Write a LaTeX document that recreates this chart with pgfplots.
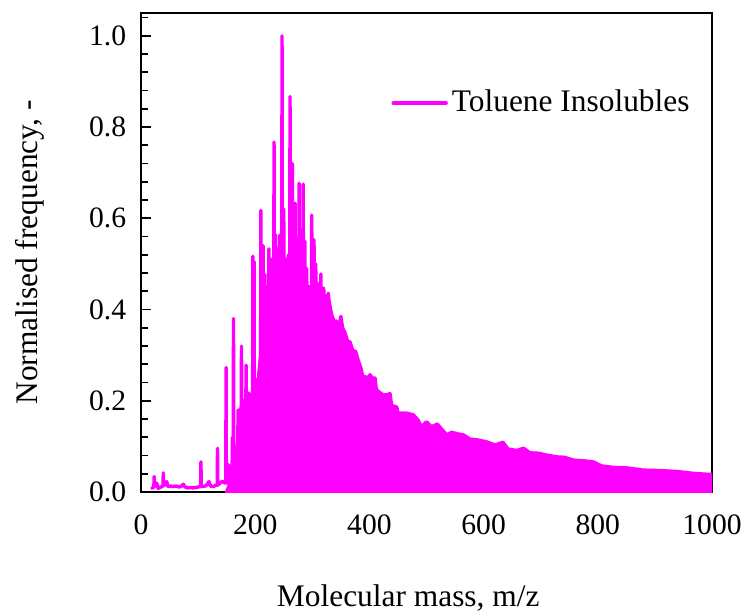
\documentclass[border=0pt]{standalone}
\usepackage{pgfplots}
\pgfplotsset{compat=1.18}
\usepackage{fontspec}
\setmainfont{Liberation Serif}
\definecolor{mag}{RGB}{255,0,255}
\begin{document}
\fontsize{15.7}{18}\selectfont
\begin{tikzpicture}
\useasboundingbox (-70.5pt,-59.5pt) rectangle (303pt,246pt);
\begin{axis}[
  at={(0,0)}, anchor=south west,
  scale only axis, width=285.5pt, height=239.5pt,
  xmin=0, xmax=1000, ymin=0, ymax=1.05,
  xtick={0,200,400,600,800,1000},
  ytick={0,0.2,0.4,0.6,0.8,1.0},
  minor ytick={0.04,0.08,0.12,0.16,0.24,0.28,0.32,0.36,0.44,0.48,0.52,0.56,0.64,0.68,0.72,0.76,0.84,0.88,0.92,0.96,1.04},
  tick pos=left, tick align=inside,
  major tick length=5pt, minor tick length=3.5pt,
  every tick/.style={black, line width=0.9pt},
  axis line style={line width=1.2pt},
  /pgf/number format/assume math mode=true,
  tick label style={font=\fontsize{14.8}{17}\selectfont},
  yticklabel style={/pgf/number format/.cd, fixed, fixed zerofill, precision=1, /tikz/.cd, xshift=-2pt},
  xticklabel style={/pgf/number format/.cd, 1000 sep={}, /tikz/.cd, yshift=-6pt},
  xlabel={Molecular mass, m/z},
  ylabel={Normalised frequency, -},
  xlabel style={at={(axis description cs:0.468,-0.221)}, anchor=center},
  ylabel style={at={(axis description cs:-0.194,0.5)}, anchor=center},
  legend style={draw=none, fill=none, at={(axis description cs:0.438,0.812)}, anchor=west, inner sep=0pt, font=\fontsize{15.7}{18}\selectfont},
  legend cell align=left,
  legend image code/.code={\draw[#1] (0pt,0pt) -- (26.5pt,0pt);},
]
% solid body of the spectrum
\addplot[draw=mag, fill=mag, line width=1.7pt, line join=round, forget plot] coordinates {
(150,0.0) (156,0.02) (160,0.05) (165,0.07) (170,0.12) (174,0.18) (180,0.2) (188,0.2) (195,0.21) (200,0.24) (205,0.24) (210,0.3) (215,0.38) (220,0.42) (230,0.42) (240,0.40) (250,0.46) (260,0.48) (270,0.47) (280,0.46) (290,0.45) (300,0.45) (310,0.44) (320,0.43) (328,0.43) (332,0.40) (335,0.384) (340,0.37) (342,0.375) (346,0.36) (350,0.385) (353,0.36) (357,0.35) (362,0.33) (366,0.329) (371,0.31) (376,0.308) (380,0.29) (385,0.272) (389,0.25) (392,0.253) (397,0.25) (401,0.257) (405,0.25) (410,0.25) (412,0.225) (416,0.22) (424,0.213) (432,0.213) (436,0.216) (439,0.19) (448,0.186) (450,0.173) (465,0.173) (477,0.169) (485,0.158) (491,0.143) (500,0.154) (509,0.143) (519,0.149) (527,0.137) (536,0.125) (544,0.131) (556,0.127) (565,0.125) (576,0.116) (590,0.114) (605,0.110) (620,0.103) (634,0.109) (643,0.094) (658,0.091) (670,0.096) (681,0.086) (696,0.085) (710,0.081) (728,0.077) (742,0.076) (757,0.070) (778,0.068) (792,0.066) (807,0.057) (827,0.054) (850,0.053) (880,0.048) (909,0.047) (938,0.045) (967,0.041) (990,0.039) (1000,0.039)
} \closedcycle;
% individual peaks
\addplot[mag, line width=1.7pt, line join=round, line cap=round] coordinates {
(19,0.008) (21,0.010) (22.5,0.010) (23,0.034) (23.5,0.012) (26,0.020) (28,0.018) (30,0.008) (33,0.010) (37,0.012) (38.5,0.012) (39,0.042) (39.5,0.015) (41,0.015) (45,0.023) (47,0.012) (52,0.013) (57,0.012) (62,0.013) (66,0.011) (70,0.012) (74,0.017) (77,0.011) (82,0.009) (86,0.010) (91,0.009) (96,0.010) (100,0.011) (104.5,0.012) (105,0.066) (105.5,0.012) (110,0.012) (115,0.015) (119,0.023) (122,0.013) (127,0.012) (131,0.015) (133.5,0.015) (134,0.096) (134.5,0.015) (139,0.020) (143,0.024) (146,0.020) (148.5,0.020) (149,0.273) (149.5,0.020) (152.5,0.02) (153,0.060) (153.5,0.02) (157,0.030) (159.5,0.03) (160,0.120) (160.5,0.05) (161.5,0.05) (162,0.380) (162.5,0.05) (165.5,0.06) (166,0.075) (166.5,0.06) (169.5,0.1) (170,0.180) (170.5,0.1) (175.5,0.15) (176,0.320) (176.5,0.15) (180,0.200) (183.5,0.15) (184,0.278) (184.5,0.15) (188.5,0.18) (189,0.217) (189.5,0.18) (192,0.200) (195.5,0.2) (196,0.517) (196.5,0.2) (197.5,0.2) (198,0.505) (198.5,0.2) (204.5,0.24) (205,0.250) (205.5,0.24) (209.5,0.3) (210,0.617) (210.5,0.3) (211.5,0.3) (212,0.450) (212.5,0.35) (213.5,0.35) (214,0.540) (214.5,0.38) (216.5,0.38) (217,0.476) (217.5,0.4) (219.5,0.4) (220,0.450) (220.5,0.42) (223.5,0.42) (224,0.533) (224.5,0.42) (227.5,0.42) (228,0.510) (228.5,0.42) (232.5,0.42) (233,0.767) (233.5,0.42) (235.5,0.42) (236,0.563) (236.5,0.4) (238.5,0.4) (239,0.465) (239.5,0.4) (242.5,0.42) (243,0.563) (243.5,0.42) (246.5,0.44) (247,1.000) (247.5,0.44) (249.5,0.46) (250,0.620) (250.5,0.46) (253.5,0.47) (254,0.510) (254.5,0.47) (257.5,0.48) (258,0.520) (258.5,0.48) (260.5,0.48) (261,0.867) (261.5,0.48) (264.5,0.48) (265,0.720) (265.5,0.47) (269.5,0.47) (270,0.633) (270.5,0.47) (272.5,0.47) (273,0.550) (273.5,0.46) (276.5,0.46) (277,0.677) (277.5,0.46) (279.5,0.46) (280,0.500) (280.5,0.46) (283.5,0.46) (284,0.675) (284.5,0.45) (286.5,0.45) (287,0.550) (287.5,0.45) (289.5,0.45) (290,0.490) (290.5,0.45) (298.5,0.45) (299,0.607) (299.5,0.45) (302.5,0.45) (303,0.553) (303.5,0.44) (305.5,0.44) (306,0.500) (306.5,0.44) (308.5,0.44) (309,0.458) (309.5,0.44) (314.5,0.44) (315,0.478) (315.5,0.43) (319.5,0.43) (320,0.447) (320.5,0.43) (327.5,0.43) (328,0.436) (328.5,0.40) (330,0.40)
};
\addlegendentry{Toluene Insolubles}
\end{axis}
\end{tikzpicture}
\end{document}
